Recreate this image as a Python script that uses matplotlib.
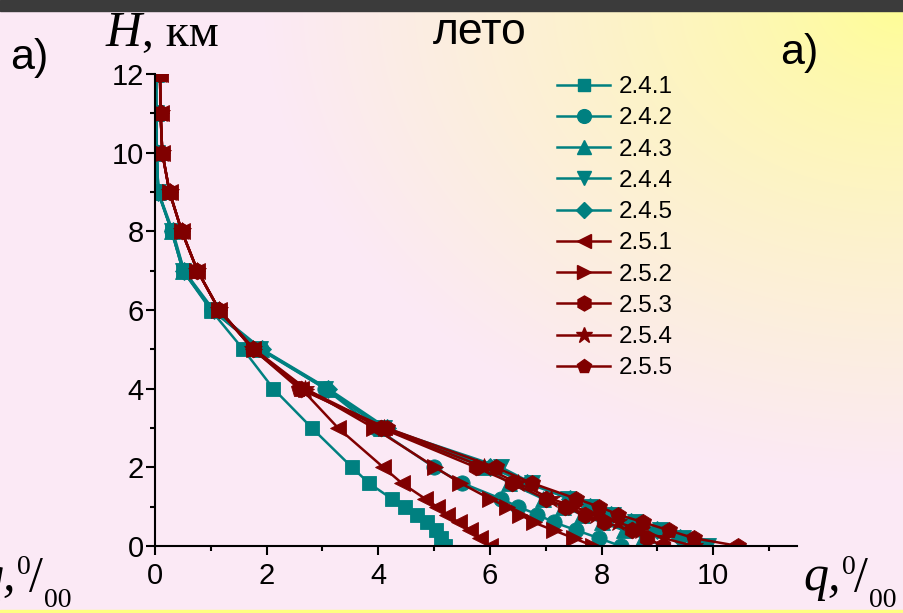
import numpy as np
import matplotlib
matplotlib.use("Agg")
import matplotlib.pyplot as plt
from matplotlib.lines import Line2D

# =========================================================
# DATA
# =========================================================

heights = [0, 0.2, 0.4, 0.6, 0.8, 1.0, 1.2, 1.6, 2, 3, 4, 5, 6, 7, 8, 9, 10, 11, 12]

q_241 = [5.2, 5.12, 5.03, 4.88, 4.7, 4.48, 4.24, 3.83, 3.53, 2.81, 2.12, 1.58, 1.0, 0.5, 0.3, 0.06, 0.03, 0.02, 0.02]
q_242 = [8.34, 7.95, 7.55, 7.15, 6.85, 6.5, 6.2, 5.5, 5.0, 3.95, 3.05, 1.9, 1.02, 0.52, 0.3, 0.06, 0.03, 0.02, 0.02]
q_243 = [9.1, 8.75, 8.4, 8.0, 7.65, 7.3, 6.95, 6.35, 5.9, 4.05, 3.08, 1.9, 1.02, 0.5, 0.3, 0.05, 0.03, 0.02, 0.02]
q_244 = [9.9, 9.45, 9.05, 8.6, 8.2, 7.8, 7.4, 6.75, 6.2, 4.1, 3.05, 1.88, 1.02, 0.5, 0.3, 0.06, 0.03, 0.02, 0.02]
q_245 = [9.7, 9.41, 9.0, 8.52, 8.16, 7.8, 7.44, 6.66, 6.0, 4.15, 3.1, 1.92, 1.05, 0.52, 0.32, 0.06, 0.03, 0.02, 0.02]

q_251 = [6.0, 5.83, 5.65, 5.44, 5.23, 5.05, 4.84, 4.42, 4.09, 3.28, 2.62, 1.76, 1.15, 0.76, 0.48, 0.26, 0.13, 0.1, 0.09]
q_252 = [7.85, 7.5, 7.14, 6.78, 6.54, 6.3, 6.0, 5.47, 5.02, 3.92, 2.7, 1.78, 1.15, 0.76, 0.48, 0.26, 0.13, 0.1, 0.09]
q_253 = [9.1, 8.81, 8.55, 8.04, 7.7, 7.35, 7.0, 6.4, 5.75, 4.05, 2.62, 1.76, 1.15, 0.76, 0.48, 0.26, 0.13, 0.1, 0.09]
q_254 = [9.65, 9.11, 8.7, 8.3, 7.9, 7.5, 7.1, 6.5, 5.9, 4.1, 2.68, 1.76, 1.15, 0.76, 0.48, 0.26, 0.13, 0.1, 0.09]
q_255 = [10.45, 9.65, 9.2, 8.75, 8.3, 7.95, 7.55, 6.75, 6.1, 4.15, 2.58, 1.76, 1.15, 0.76, 0.48, 0.26, 0.13, 0.1, 0.09]

labels = ["2.4.1", "2.4.2", "2.4.3", "2.4.4", "2.4.5",
          "2.5.1", "2.5.2", "2.5.3", "2.5.4", "2.5.5"]

series = [q_241, q_242, q_243, q_244, q_245,
          q_251, q_252, q_253, q_254, q_255]

markers = ["s", "o", "^", "v", "D", "<", ">", "h", "*", "p"]
sizes = [10, 11, 11.5, 11.5, 9.5, 11.5, 11.5, 12, 13.5, 12]

TEAL = "#008080"
MAROON = "#800000"
colors = [TEAL] * 5 + [MAROON] * 5

x_ticks = [0, 2, 4, 6, 8, 10]
y_ticks = [0, 2, 4, 6, 8, 10, 12]

W, H = 904, 613

# =========================================================
# FIGURE + BACKGROUND
# =========================================================

fig = plt.figure(figsize=(W / 100, H / 100), dpi=100)

bg = fig.add_axes([0, 0, 1, 1], zorder=-10)
yy, xx = np.mgrid[0:H, 0:W]
d = np.sqrt(((W - xx) / 640.0) ** 2 + (yy / 480.0) ** 2)
t = np.clip(d, 0, 1) ** 0.75
yellow = np.array([255, 255, 145]) / 255.0
pink = np.array([251, 233, 245]) / 255.0
img = yellow[None, None, :] * (1 - t[..., None]) + pink[None, None, :] * t[..., None]
bg.imshow(img, extent=[0, W, H, 0], aspect="auto")
bg.add_patch(plt.Rectangle((0, 0), W, 11, color="#3b3b3b"))
bg.add_patch(plt.Rectangle((0, H - 3), W, 3, color="#ffff80"))
bg.set_xlim(0, W)
bg.set_ylim(H, 0)
bg.axis("off")

# =========================================================
# MAIN AXES
# =========================================================

ax = fig.add_axes([155 / W, 67 / H, (797 - 155) / W, (546 - 74) / H])
ax.patch.set_alpha(0)

for q, lab, m, ms, c in zip(series, labels, markers, sizes, colors):
    ax.plot(q, heights, color=c, lw=1.8, marker=m, markersize=ms,
            markeredgewidth=0.6, markeredgecolor=c, label=lab)

ax.set_xlim(0, 11.5)
ax.set_ylim(0, 12)

ax.spines["top"].set_visible(False)
ax.spines["right"].set_visible(False)
ax.spines["left"].set_linewidth(1.5)
ax.spines["bottom"].set_linewidth(1.5)

ax.set_xticks(x_ticks)
ax.set_yticks(y_ticks)
ax.set_xticks([1, 3, 5, 7, 9, 11], minor=True)
ax.set_yticks([1, 3, 5, 7, 9, 11], minor=True)

ax.tick_params(which="major", length=6.5, width=1.5, direction="out", labelsize=21)
ax.tick_params(which="minor", length=3.5, width=1.5, direction="out")
for lbl in ax.get_xticklabels() + ax.get_yticklabels():
    lbl.set_family("Liberation Sans")
ax.tick_params(axis="x", pad=5)
ax.tick_params(axis="y", pad=1.5)

# =========================================================
# LEGEND
# =========================================================

handles = [Line2D([], [], color=c, lw=1.8, marker=m, markersize=ms * 0.9,
                  markeredgecolor=c) for m, ms, c in zip(markers, sizes, colors)]
leg = fig.legend(handles, labels, loc="upper left",
                 bbox_to_anchor=(557 / W, 1 - 76 / H), frameon=False,
                 prop={"family": "Liberation Sans", "size": 17.5},
                 handlelength=2.2, handletextpad=0.35, labelspacing=0.38,
                 borderaxespad=0, borderpad=0)

# =========================================================
# TEXTS
# =========================================================

def px(x, y):
    return x / W, 1 - y / H

fig.text(*px(10, 69), "а)", fontsize=31, family="Liberation Sans", va="baseline")
fig.text(*px(780, 64), "а)", fontsize=31, family="Liberation Sans", va="baseline")
fig.text(*px(480, 44), "лето", fontsize=32, family="Liberation Sans",
         va="baseline", ha="center")

renderer = fig.canvas.get_renderer()
h_txt = fig.text(*px(106, 46), "H", fontsize=36, family="Liberation Serif",
                 style="italic", va="baseline")
bb = h_txt.get_window_extent(renderer)
fig.text(bb.x1 / W, 1 - 46 / H, ", км", fontsize=34, family="Liberation Serif",
         va="baseline")

# q label at the right, and the clipped copy at the left edge of the slide
def q_label(x0):
    fig.text(*px(x0, 590), "q,", fontsize=36, family="Liberation Serif",
             style="italic", va="baseline")
    fig.text(*px(x0 + 39, 574), "0", fontsize=20, family="Liberation Serif",
             va="baseline")
    fig.text(*px(x0 + 51, 591), "/", fontsize=36, family="Liberation Serif",
             va="baseline")
    fig.text(*px(x0 + 66, 607), "00", fontsize=20, family="Liberation Serif",
             va="baseline")

q_label(803)
q_label(-22)

fig.savefig("out.png", dpi=100)
